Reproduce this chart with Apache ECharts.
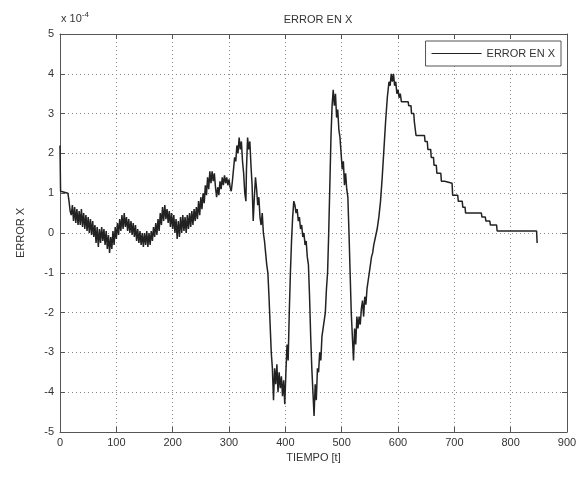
<!DOCTYPE html>
<html>
<head>
<meta charset="utf-8" />
<title>ERROR EN X</title>
<script src="https://cdn.jsdelivr.net/npm/echarts@6/dist/echarts.min.js"></script>
<style>
  html, body { margin: 0; padding: 0; background: #fff; }
  #main { width: 585px; height: 479px; }
</style>
</head>
<body>
<div id="main"></div>
<script type="text/javascript">
// tiempo [t]
var tiempo = [
  0, 0.5, 1, 2, 14, 16, 18, 20,
  22, 24, 26, 28, 30, 32, 34, 36, 38, 40, 42, 44, 46, 48, 50, 52, 54, 56, 58, 60,
  62, 64, 66, 68, 70, 72, 74, 76, 78, 80, 82, 84, 86, 88, 90, 92, 94, 96, 98, 100,
  102, 104, 106, 108, 110, 112, 114, 116, 118, 120, 122, 124, 126, 128, 130, 132, 134, 136, 138, 140,
  142, 144, 146, 148, 150, 152, 154, 156, 158, 160, 162, 164, 166, 168, 170, 172, 174, 176, 178, 180,
  182, 184, 186, 188, 190, 192, 194, 196, 198, 200, 202, 204, 206, 208, 210, 212, 214, 216, 218, 220,
  222, 224, 226, 228, 230, 232, 234, 236, 238, 240, 242, 244, 246, 248, 250, 252, 254, 256, 258, 260,
  262, 264, 266, 268, 270, 272, 274, 276, 278, 280, 282, 284, 286, 288, 290, 292, 294, 296, 298, 300,
  302, 304, 306, 308, 310, 312, 314, 316, 318, 320, 322, 324, 326, 328, 330,
  331, 333, 335, 337, 339, 341, 343, 345, 347, 349, 351, 353, 355, 357, 359, 361, 363, 365, 367, 369,
  371, 373, 375, 377, 379, 381, 383, 385, 387, 389, 391, 393, 395, 397, 399, 401, 403, 405, 407, 409,
  411, 413, 415, 417, 419, 421, 423, 425, 427, 429, 431, 433, 435, 437, 439, 441, 443, 445, 447, 449,
  451, 453, 455, 457, 459, 461, 463, 465, 467, 469, 471, 473, 475, 477, 479, 481, 483, 485, 487, 489,
  491, 493, 495, 497, 499, 501, 503, 505, 507, 509, 511, 513, 515, 517, 519, 521, 523, 525, 527, 529,
  531, 533, 535, 537, 539, 541, 543, 545, 547, 549, 551, 553, 555, 557, 560, 563, 566, 569, 572, 575,
  578, 581, 584, 586, 588, 590, 592, 594, 596, 598, 600, 602, 604,
  606, 618, 619, 623, 624, 628, 629, 631, 632, 647, 648, 652, 653, 658, 659, 663, 664, 668, 669, 676,
  677, 683, 684, 696, 697, 706, 707, 714, 715, 719, 720, 748, 749, 755, 756, 763, 764, 775, 776, 846, 847
];

// error en x (x 10^-4)
var errorX = [
  2.2, 1.6, 1.05, 1.0, 1.0, 0.8, 0.55, 0.45,
  0.7, 0.3, 0.65, 0.25, 0.6, 0.2, 0.55, 0.2, 0.6, 0.15, 0.5, 0.1, 0.45, 0.05, 0.4, 0.0, 0.35, -0.05, 0.3, -0.1,
  0.2, -0.25, 0.15, -0.35, 0.1, -0.25, 0.15, -0.2, 0.1, -0.3, 0.05, -0.4, -0.05, -0.5, -0.1, -0.4, 0.05, -0.3, 0.15, -0.15,
  0.25, -0.05, 0.35, 0.05, 0.45, 0.1, 0.5, 0.15, 0.4, 0.05, 0.35, 0.0, 0.3, -0.05, 0.25, -0.1, 0.2, -0.2, 0.1, -0.25,
  0.05, -0.3, 0.0, -0.35, 0.0, -0.3, 0.05, -0.35, 0.0, -0.3, 0.05, -0.2, 0.15, -0.1, 0.25, -0.05, 0.35, 0.05, 0.5, 0.2,
  0.65, 0.3, 0.7, 0.35, 0.6, 0.25, 0.55, 0.15, 0.5, 0.1, 0.45, 0.0, 0.35, -0.15, 0.3, -0.1, 0.4, 0.0, 0.45, 0.05,
  0.4, 0.0, 0.45, 0.1, 0.5, 0.15, 0.55, 0.2, 0.6, 0.3, 0.65, 0.35, 0.8, 0.45, 0.9, 0.6, 1.0, 0.75, 1.2, 0.95,
  1.4, 1.1, 1.55, 1.25, 1.55, 1.3, 1.5, 1.15, 0.9, 1.15, 0.95, 1.3, 1.1, 1.4, 1.2, 1.45, 1.25, 1.4, 1.2, 1.35,
  1.15, 1.05, 1.3, 1.6, 1.9, 1.8, 2.2, 2.0, 2.4, 2.1, 2.3, 1.8, 1.5, 1.0, 0.8,
  1.6, 2.4, 2.1, 2.3, 1.7, 1.2, 0.3, 0.9, 1.4, 1.1, 0.7, 0.9, 0.4, 0.2, 0.5, 0.0, -0.2, -0.5, -0.8, -1.0,
  -1.6, -2.3, -3.0, -3.4, -4.2, -3.4, -3.8, -3.3, -4.0, -3.5, -3.9, -3.6, -4.1, -3.7, -4.3, -3.5, -2.8, -3.2, -2.0, -1.0,
  -0.2, 0.4, 0.8, 0.7, 0.5, 0.6, 0.3, 0.4, 0.1, 0.2, -0.1, 0.0, -0.3, -0.2, -0.6, -0.8, -1.6, -2.6, -3.4, -4.0,
  -4.6, -3.8, -4.2, -3.4, -3.5, -3.0, -3.2, -2.6, -2.4, -2.2, -2.0, -1.4, -1.0, 0.0, 1.2, 2.4, 3.2, 3.6, 3.2, 3.5,
  2.9, 3.1, 2.6, 2.4, 2.0, 1.6, 1.8, 1.2, 1.5, 1.1, 0.9, 0.0, -1.0, -2.0, -2.6, -3.2, -2.4, -2.8, -2.1, -2.4,
  -2.1, -2.3, -1.9, -1.7, -2.1, -1.6, -1.8, -1.4, -1.2, -1.0, -0.8, -0.6, -0.5, -0.3, -0.1, 0.1, 0.4, 0.8, 1.4, 2.1,
  2.8, 3.4, 3.8, 3.7, 4.0, 3.8, 4.0, 3.7, 3.8, 3.5, 3.6, 3.4, 3.5,
  3.3, 3.3, 3.2, 3.2, 3.0, 3.0, 2.8, 2.8, 2.45, 2.45, 2.3, 2.3, 2.1, 2.1, 1.9, 1.9, 1.7, 1.7, 1.5, 1.5,
  1.3, 1.3, 1.25, 1.25, 0.95, 0.95, 0.8, 0.8, 0.65, 0.65, 0.5, 0.5, 0.4, 0.4, 0.3, 0.3, 0.2, 0.2, 0.05, 0.05, -0.25
];

var xTicks = [0, 100, 200, 300, 400, 500, 600, 700, 800, 900];
var yTicks = [-5, -4, -3, -2, -1, 0, 1, 2, 3, 4, 5];

var serie = tiempo.map(function (t, i) { return [t, errorX[i]]; });

var fuente = 'Liberation Sans, Arial, sans-serif';
var grilla = { show: true, lineStyle: { color: '#8a8a8a', type: [1, 3], width: 1 } };

var myChart = echarts.init(document.getElementById('main'));
var option = {
    animation: false,
    backgroundColor: '#fff',
    title: {
        text: 'ERROR EN X',
        left: 313, top: 9, textAlign: 'center',
        textStyle: { fontFamily: fuente, fontSize: 11, fontWeight: 'normal', color: '#333' }
    },
    legend: {
        data: ['ERROR EN X'],
        right: 24, top: 41,
        orient: 'vertical',
        itemWidth: 50, itemHeight: 1, itemGap: 0,
        padding: [7, 6, 7, 6],
        borderColor: '#555', borderWidth: 1,
        backgroundColor: '#fff',
        icon: 'rect',
        textStyle: { fontFamily: fuente, fontSize: 11, color: '#333' }
    },
    graphic: [{
        type: 'text', left: 61, top: 11,
        style: {
            text: '{a|x 10}{b|-4}',
            rich: {
                a: { fontFamily: fuente, fontSize: 11, fill: '#333' },
                b: { fontFamily: fuente, fontSize: 8, fill: '#333', verticalAlign: 'top', padding: [0, 0, 8, 0] }
            }
        }
    }],
    grid: { left: 60, right: 18, top: 34, bottom: 47 },
    xAxis: [{
        type: 'value', min: 0, max: 900, interval: 100,
        name: 'TIEMPO [t]', nameLocation: 'middle', nameGap: 20,
        nameTextStyle: { fontFamily: fuente, fontSize: 11, color: '#333' },
        axisLine: { show: true, onZero: false, lineStyle: { color: '#555' } },
        axisTick: { show: true, inside: true, length: 5, lineStyle: { color: '#555' } },
        axisLabel: {
            fontFamily: fuente, fontSize: 11, color: '#333', margin: 5,
            formatter: function (v) { return xTicks.indexOf(v) >= 0 ? String(v) : ''; }
        },
        splitLine: grilla
    }, {
        type: 'value', position: 'top', min: 0, max: 900, interval: 100,
        axisLine: { show: true, onZero: false, lineStyle: { color: '#555' } },
        axisTick: { show: true, inside: true, length: 5, lineStyle: { color: '#555' } },
        axisLabel: { show: false }, splitLine: { show: false }
    }],
    yAxis: [{
        type: 'value', min: -5, max: 5, interval: 1,
        name: 'ERROR X', nameLocation: 'middle', nameGap: 34,
        nameTextStyle: { fontFamily: fuente, fontSize: 11, color: '#333' },
        axisLine: { show: true, onZero: false, lineStyle: { color: '#555' } },
        axisTick: { show: true, inside: true, length: 5, lineStyle: { color: '#555' } },
        axisLabel: {
            fontFamily: fuente, fontSize: 11, color: '#333', margin: 6,
            formatter: function (v) { return yTicks.indexOf(v) >= 0 ? String(v) : ''; }
        },
        splitLine: grilla
    }, {
        type: 'value', position: 'right', min: -5, max: 5, interval: 1,
        axisLine: { show: true, onZero: false, lineStyle: { color: '#555' } },
        axisTick: { show: true, inside: true, length: 5, lineStyle: { color: '#555' } },
        axisLabel: { show: false }, splitLine: { show: false }
    }],
    series: [{
        name: 'ERROR EN X',
        type: 'line',
        xAxisIndex: 0, yAxisIndex: 0,
        showSymbol: false,
        color: '#222',
        lineStyle: { color: '#222', width: 1.5 },
        data: serie
    }]
};

myChart.setOption(option);
</script>
</body>
</html>
